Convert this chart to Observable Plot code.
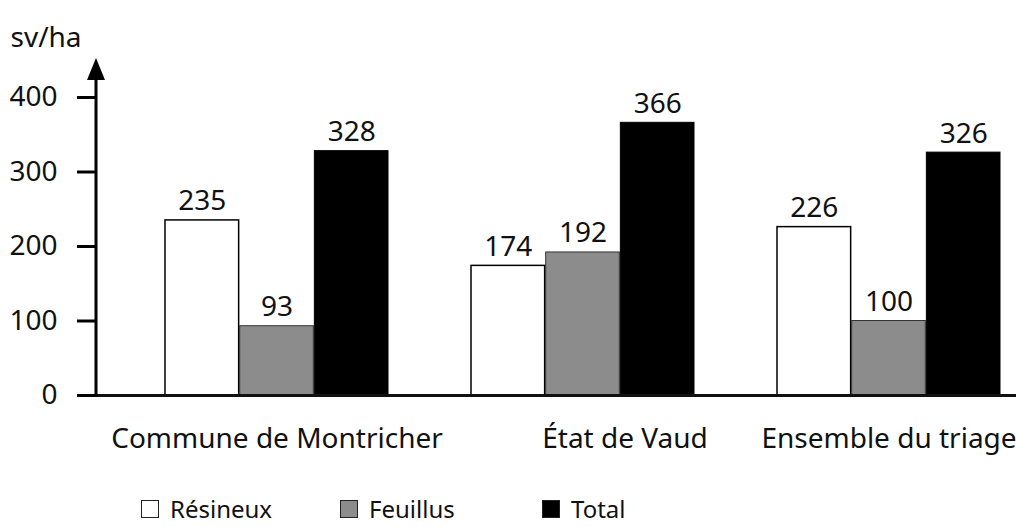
<!DOCTYPE html>
<html>
<head>
<meta charset="utf-8">
<script src="https://cdn.jsdelivr.net/npm/d3@7"></script>
<script src="https://cdn.jsdelivr.net/npm/@observablehq/plot@0.6"></script>
<style>
  html, body { margin: 0; padding: 0; background: #fff; }
  body { width: 1016px; height: 527px; overflow: hidden; font-family: "Noto Sans", sans-serif; }
  #chart svg { overflow: visible; }
  #chart [aria-label^="y-axis"] path, #chart [aria-label^="y-axis"] line { stroke-width: 3px; stroke: #000; }
  #legend { position: relative; height: 57px; font-size: 24px; color: #111; }
  .item { position: absolute; top: 24px; height: 30px; line-height: 30px; display: flex; align-items: center; }
  .sw { width: 16px; height: 16px; border: 1.5px solid #222; margin-right: 11px; box-sizing: content-box; }
</style>
</head>
<body>
<div id="chart"></div>
<div id="legend"></div>
<script>
const groups = ["Commune de Montricher", "État de Vaud", "Ensemble du triage"];
const series = ["Résineux", "Feuillus", "Total"];
const resineux = [235, 174, 226];
const feuillus = [93, 192, 100];
const total = [328, 366, 326];
const yTicks = [0, 100, 200, 300, 400];
const colors = ["#ffffff", "#8c8c8c", "#000000"];

const values = [resineux, feuillus, total];
const data = groups.flatMap((g, i) => series.map((s, k) => ({group: g, series: s, k, value: values[k][i]})));

const W = 1016, H = 470, ML = 96, MR = 0, MT = 97, MB = 75;
const pInner = 0.27, pOuter = 0.134, align = 0.817;
const step = (W - ML - MR) / (groups.length - pInner + 2 * pOuter);
const bw = step * (1 - pInner);
const sub = bw / series.length;

const marks = [];
series.forEach((s, k) => {
  const sub_data = data.filter(d => d.k === k);
  marks.push(Plot.barY(sub_data, {
    x: "group", y: "value", fill: colors[k],
    stroke: k === 1 ? "#333" : "#000", strokeWidth: k === 0 ? 1.5 : 1,
    insetLeft: k * sub, insetRight: (series.length - 1 - k) * sub
  }));
  marks.push(Plot.text(sub_data, {
    x: "group", y: "value", text: d => String(d.value),
    dx: (k - 1) * sub, dy: -10, lineAnchor: "bottom", fill: "#111"
  }));
});
marks.push(Plot.ruleY([0], {strokeWidth: 3}));
marks.push(Plot.text(groups.filter((g, i) => i !== 1), {x: d => d, text: d => d, frameAnchor: "bottom", dy: 52, fill: "#111"}));
marks.push(Plot.text(groups.filter((g, i) => i === 1), {x: d => d, text: d => d, frameAnchor: "bottom", dy: 52, dx: 42, fill: "#111"}));
marks.push(Plot.text(["sv/ha"], {text: d => d, frameAnchor: "top-left", dx: -86, dy: -70, textAnchor: "start", fill: "#111"}));

const chart = Plot.plot({
  width: W, height: H,
  marginLeft: ML, marginRight: MR, marginTop: MT, marginBottom: MB,
  style: {fontSize: "28px", fontFamily: "Noto Sans", color: "#111", overflow: "visible"},
  x: {domain: groups, paddingInner: pInner, paddingOuter: pOuter, align, axis: null},
  y: {domain: [0, 400], ticks: yTicks, tickSize: 19, tickPadding: 20, label: null, grid: false},
  marks
});
document.getElementById("chart").appendChild(chart);

// vertical axis line with arrow head
const yS = chart.scale("y");
const svg = d3.select(chart);
const y0 = yS.apply(0);
const yTop = yS.apply(400) - 39;
svg.append("line").attr("x1", ML).attr("x2", ML).attr("y1", y0 + 1.5).attr("y2", yTop + 10)
  .attr("stroke", "#000").attr("stroke-width", 3);
svg.append("path").attr("d", `M${ML},${yTop} L${ML - 9},${yTop + 22} L${ML + 9},${yTop + 22} Z`).attr("fill", "#000");

// legend
const legendLeft = [141, 340, 542];
const legend = document.getElementById("legend");
series.forEach((s, k) => {
  const it = document.createElement("div");
  it.className = "item";
  it.style.left = legendLeft[k] + "px";
  const sw = document.createElement("span");
  sw.className = "sw";
  sw.style.background = colors[k];
  const t = document.createElement("span");
  t.textContent = s;
  it.appendChild(sw); it.appendChild(t);
  legend.appendChild(it);
});
</script>
</body>
</html>
